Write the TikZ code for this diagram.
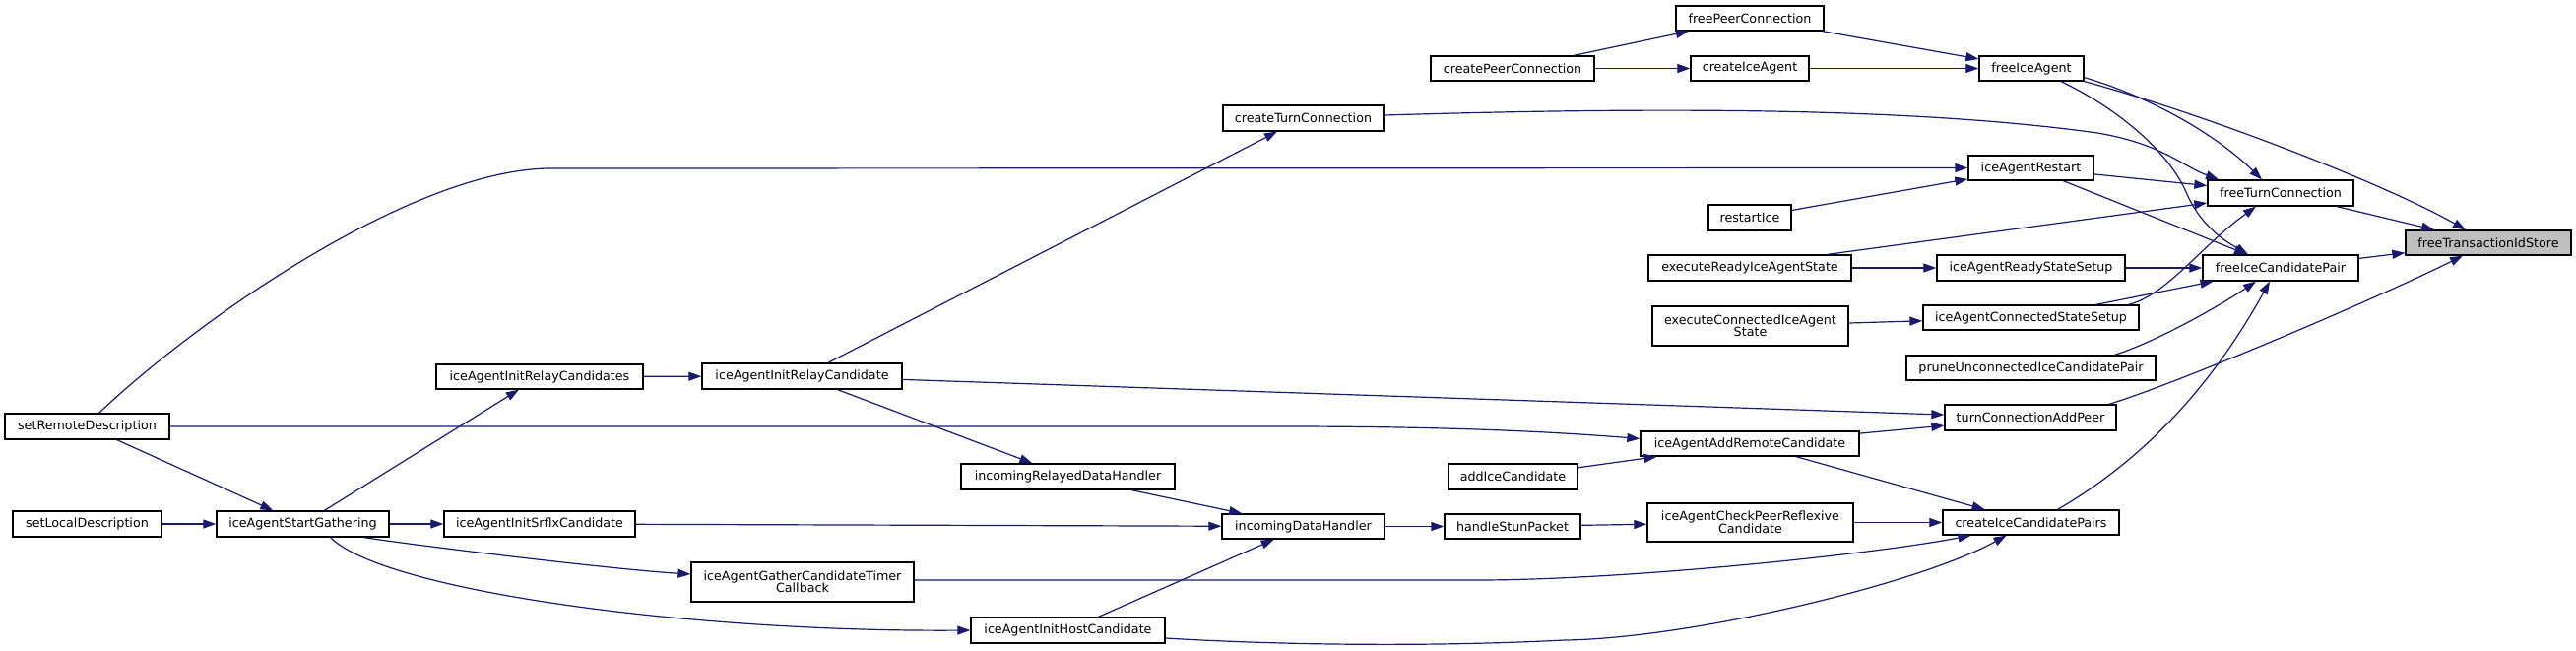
\documentclass[tikz,border=0pt]{standalone}
\usepackage{fontspec}
\setmainfont{DejaVu Sans}
\usetikzlibrary{arrows.meta}
\definecolor{edgec}{HTML}{191970}
\definecolor{rootfill}{HTML}{BFBFBF}
\newcommand{\mkbox}[7][]{\node[fn,minimum width={(#5)-(#3)},minimum height={(#6)-(#4)},#1] (#2) at ({((#3)+(#5))/2},{((#4)+(#6))/2}) {#7};}
\begin{document}
\begin{tikzpicture}[x=1pt,y=-1pt,
  fn/.style={draw=black, line width=1.3pt, fill=white, inner sep=0pt, align=center, font=\fontsize{12.7}{12.5}\selectfont},
  call/.style={draw=edgec, line width=1.2pt, -{Triangle[length=13pt,width=9pt]}}]
\useasboundingbox[fill=white] (0,0) rectangle (2616,661);
% nodes
\mkbox{fpc}{1702}{6}{1852}{31}{freePeerConnection}
\mkbox{cpc}{1453}{57}{1619}{82}{createPeerConnection}
\mkbox{cia}{1717}{57}{1837}{82}{createIceAgent}
\mkbox{fia}{2010}{57}{2116}{82}{freeIceAgent}
\mkbox{ctc}{1242}{107}{1405}{133}{createTurnConnection}
\mkbox{iar}{1999}{158}{2126}{183}{iceAgentRestart}
\mkbox{ri}{1735}{208}{1819}{234}{restartIce}
\mkbox{ftc}{2242}{183}{2390}{209}{freeTurnConnection}
\mkbox[fill=rootfill]{ftis}{2443}{234}{2611}{259}{freeTransactionIdStore}
\mkbox{eri}{1674}{259}{1880}{285}{executeReadyIceAgentState}
\mkbox{arss}{1967}{259}{2158}{285}{iceAgentReadyStateSetup}
\mkbox{ficp}{2237}{259}{2395}{285}{freeIceCandidatePair}
\mkbox{eci}{1678}{311}{1877}{351}{executeConnectedIceAgent\\State}
\mkbox{acss}{1953}{310}{2172}{335}{iceAgentConnectedStateSetup}
\mkbox{pru}{1936}{361}{2189}{386}{pruneUnconnectedIceCandidatePair}
\mkbox{tcap}{1975}{411}{2149}{437}{turnConnectionAddPeer}
\mkbox{aarc}{1666}{438}{1888}{463}{iceAgentAddRemoteCandidate}
\mkbox{aic}{1471}{471}{1602}{497}{addIceCandidate}
\mkbox{srd}{5}{420}{172}{446}{setRemoteDescription}
\mkbox{airs}{443}{370}{653}{395}{iceAgentInitRelayCandidates}
\mkbox{air}{713}{369}{916}{395}{iceAgentInitRelayCandidate}
\mkbox{irdh}{976}{471}{1193}{497}{incomingRelayedDataHandler}
\mkbox{sld}{13}{519}{164}{545}{setLocalDescription}
\mkbox{asg}{220}{519}{395}{545}{iceAgentStartGathering}
\mkbox{aisc}{451}{519}{645}{545}{iceAgentInitSrflxCandidate}
\mkbox{idh}{1241}{522}{1406}{547}{incomingDataHandler}
\mkbox{hsp}{1467}{522}{1605}{547}{handleStunPacket}
\mkbox{acpr}{1673}{511}{1882}{550}{iceAgentCheckPeerReflexive\\Candidate}
\mkbox{cicp}{1973}{518}{2152}{543}{createIceCandidatePairs}
\mkbox{agct}{702}{571}{928}{611}{iceAgentGatherCandidateTimer\\Callback}
\mkbox{aihc}{986}{627}{1183}{653}{iceAgentInitHostCandidate}
% edges
\draw[call] (cpc) -- (fpc);
\draw[call] (cpc) -- (cia);
\draw[call] (fpc) -- (fia);
\draw[call] (cia) -- (fia);
\draw[call] (fia.south east) .. controls (2246,118) and (2424,188) .. ([xshift=-23pt]ftis.north);
\draw[call] ([yshift=4pt]fia.south east) .. controls (2186,99) and (2252,138) .. ([xshift=-19pt]ftc.north);
\draw[call] ([xshift=30pt]fia.south) .. controls (2160,115) and (2205,160) .. (2220,195) .. controls (2235,230) and (2260,245) .. ([xshift=-33pt]ficp.north);
\draw[call] ([yshift=3pt]ctc.east) .. controls (1700,108) and (1950,110) .. (2130,135) .. controls (2195,146) and (2215,168) .. ([xshift=-63pt]ftc.north);
\draw[call] (iar) -- (ftc);
\draw[call] (iar) -- (ficp);
\draw[call] (ri) -- (iar);
\draw[call] ([xshift=12pt]srd.north) .. controls (200,325) and (420,171) .. (560,171) -- (iar.west);
\draw[call] ([xshift=-25pt]eri.north east) -- (ftc);
\draw[call] (eri) -- (arss);
\draw[call] (arss) -- (ficp);
\draw[call] (eci) -- (acss);
\draw[call] ([xshift=99pt]acss.north) .. controls (2200,300) and (2235,250) .. ([xshift=-25pt]ftc.south);
\draw[call] (acss) -- (ficp);
\draw[call] ([xshift=85pt]pru.north) .. controls (2190,347) and (2255,310) .. ([xshift=-25pt]ficp.south);
\draw[call] ([xshift=27pt]cicp.north) .. controls (2190,459) and (2255,376) .. ([xshift=-11pt]ficp.south);
\draw[call] (ficp) -- (ftis);
\draw[call] (ftc) -- (ftis);
\draw[call] ([xshift=80pt]tcap.north) .. controls (2220,386) and (2420,300) .. ([xshift=-26pt]ftis.south);
\draw[call] (air) -- (ctc);
\draw[call] (air) -- (tcap);
\draw[call] (aarc) -- (tcap);
\draw[call] (srd.east) -- (1300,433) .. controls (1450,433) and (1560,437) .. ([yshift=5pt]aarc.west);
\draw[call] (aic) -- (aarc);
\draw[call] (aarc) -- (cicp);
\draw[call] (acpr) -- (cicp);
\draw[call] ([yshift=2pt]agct.east) -- (1500,589) .. controls (1650,589) and (1901,563) .. ([xshift=-61pt]cicp.south);
\draw[call] ([yshift=-8pt]aihc.east) .. controls (1300,655) and (1450,657) .. (1589,650) .. controls (1720,648) and (1950,592) .. ([xshift=-25pt]cicp.south);
\draw[call] (hsp) -- (acpr);
\draw[call] (idh) -- (hsp);
\draw[call] (irdh) -- (idh);
\draw[call] (aisc) -- (idh);
\draw[call] (aihc) -- (idh);
\draw[call] (air) -- (irdh);
\draw[call] (airs) -- (air);
\draw[call] (asg) -- (airs);
\draw[call] (srd) -- (asg);
\draw[call] (sld) -- (asg);
\draw[call] (asg) -- (aisc);
\draw[call] ([xshift=62pt]asg.south) .. controls (420,553.5) and (620,578) .. ([yshift=8pt]agct.west);
\draw[call] ([xshift=28pt]asg.south) .. controls (390,600) and (700,642) .. (aihc.west);
\end{tikzpicture}
\end{document}
